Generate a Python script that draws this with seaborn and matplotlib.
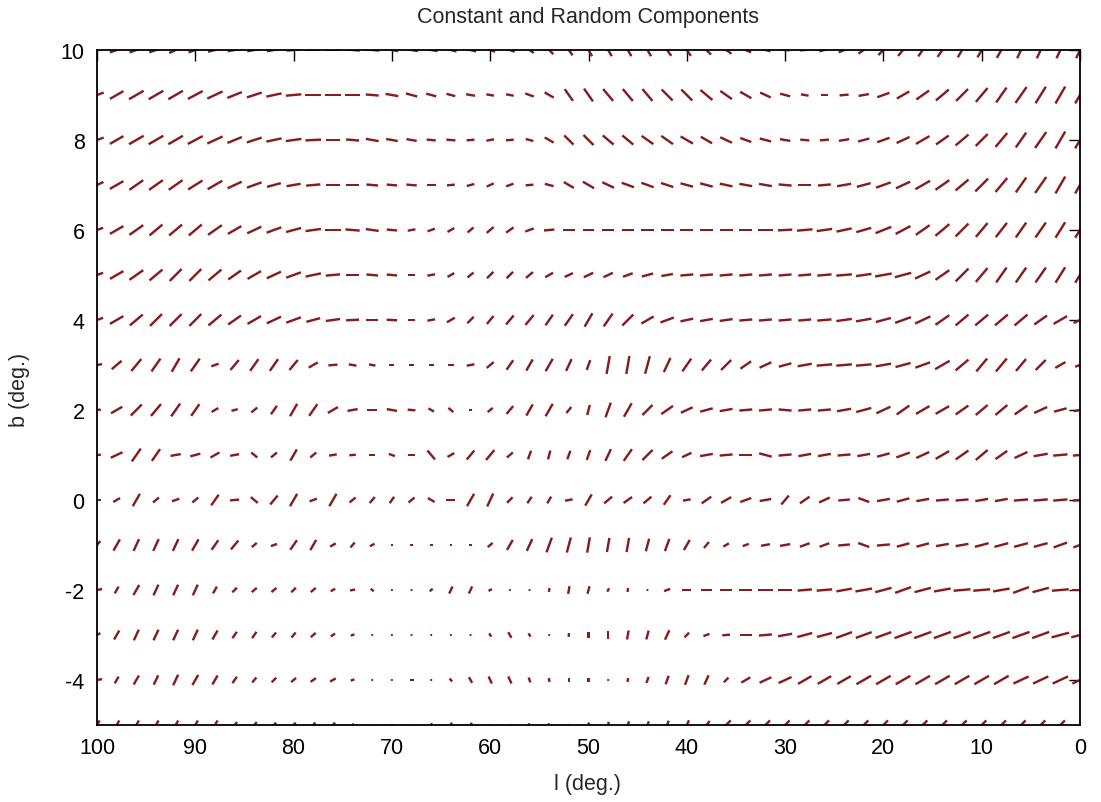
import numpy as np
import pandas as pd
import matplotlib
matplotlib.use("Agg")
import matplotlib.pyplot as plt
import seaborn as sns


sns.set_theme(style="white")
plt.rcParams["font.family"] = ["Liberation Sans", "DejaVu Sans"]
plt.rcParams["axes.unicode_minus"] = False

# grid: l = 100 ... 0 every 2 deg, b = 10 ... -5
l_grid = list(range(100, -1, -2))

# per row: screen angle of the bar (deg, ccw from horizontal) and bar size
# each list goes l = 100 -> 0
ang_p10 = [20, 20, 20, 20, 25, 20, 15, 10, 10, 10,
           5, 0, 0, -5, -5, -10, -10, -10, -15, -15,
           -20, -20, -35, -45, -55, -60, -60, -60, -60, -55,
           -55, -45, -35, -25, -15, -5, 5, 15, 25, 35,
           45, 50, 55, 55, 60, 60, 60, 65, 65, 65,
           65]
len_p10 = [11, 11, 11, 11, 11, 11, 11, 11, 11, 11,
           11, 11, 11, 11, 11, 10, 10, 10, 9, 9,
           8, 8, 8, 9, 10, 11, 11, 11, 11, 11,
           11, 10, 10, 9, 8, 7, 7, 8, 9, 10,
           11, 12, 12, 13, 13, 13, 14, 14, 14, 14,
           14]

ang_p9 = [20, 30, 30, 30, 30, 28, 25, 22, 18, 12,
          5, 0, 0, 0, -5, -10, -15, -15, -15, -10,
          -10, -10, -20, -30, -55, -55, -50, -50, -50, -45,
          -45, -40, -35, -30, -25, -15, -10, 0, 5, 10,
          20, 30, 35, 40, 45, 50, 55, 55, 58, 60,
          60]
len_p9 = [11, 12, 13, 13, 13, 13, 13, 12, 12, 12,
          12, 12, 12, 11, 10, 10, 9, 8, 7, 7,
          6, 6, 7, 8, 11, 12, 12, 12, 12, 12,
          12, 12, 11, 10, 9, 8, 6, 6, 7, 8,
          10, 11, 12, 13, 13, 14, 14, 15, 15, 15,
          15]

ang_p8 = [20, 30, 30, 30, 30, 28, 25, 22, 18, 12,
          8, 3, 0, -5, -10, -10, -10, -5, -5, 5,
          10, 5, -15, -30, -45, -45, -40, -40, -35, -35,
          -30, -30, -25, -20, -15, -10, -5, 5, 10, 15,
          20, 25, 30, 35, 40, 45, 50, 55, 55, 60,
          60]
len_p8 = [11, 12, 13, 13, 13, 13, 13, 12, 12, 12,
          12, 12, 11, 10, 10, 9, 8, 7, 7, 6,
          6, 6, 6, 8, 10, 11, 11, 11, 11, 11,
          11, 10, 10, 9, 9, 8, 7, 7, 8, 9,
          10, 11, 12, 12, 13, 13, 14, 14, 15, 15,
          15]

ang_p7 = [25, 30, 35, 35, 35, 32, 30, 25, 20, 15,
          10, 5, 0, 0, -5, -5, -5, 0, 5, 15,
          25, 20, 5, -15, -30, -30, -25, -20, -20, -18,
          -15, -15, -12, -10, -10, -5, 0, 5, 10, 15,
          20, 25, 30, 35, 40, 45, 50, 55, 55, 60,
          60]
len_p7 = [11, 12, 13, 13, 13, 13, 13, 12, 12, 11,
          11, 11, 11, 10, 9, 8, 8, 7, 6, 6,
          6, 6, 6, 7, 9, 10, 10, 10, 10, 10,
          10, 10, 10, 10, 10, 10, 10, 10, 11, 11,
          12, 12, 13, 13, 13, 14, 14, 14, 15, 15,
          15]

ang_p6 = [20, 30, 35, 40, 40, 40, 35, 30, 25, 20,
          15, 8, 0, -5, -8, -5, 10, 20, 30, 40,
          40, 35, 20, 5, 0, 0, 0, 0, 0, 0,
          0, 0, 0, 0, 0, 3, 5, 8, 12, 16,
          22, 28, 35, 40, 45, 50, 52, 55, 55, 58,
          58]
len_p6 = [10, 12, 13, 13, 13, 13, 13, 12, 12, 12,
          12, 12, 12, 11, 10, 8, 6, 6, 6, 6,
          7, 7, 7, 8, 9, 9, 9, 9, 10, 10,
          10, 10, 10, 10, 11, 11, 12, 12, 12, 12,
          13, 13, 13, 14, 14, 14, 14, 14, 14, 14,
          14]

ang_p5 = [20, 30, 35, 40, 45, 45, 40, 35, 30, 25,
          20, 12, 5, 0, -5, -5, 0, 10, 30, 40,
          45, 45, 40, 30, 25, 25, 25, 20, 15, 10,
          5, 5, 5, 5, 5, 5, 5, 5, 5, 8,
          10, 15, 25, 35, 45, 50, 55, 55, 55, 58,
          58]
len_p5 = [10, 12, 13, 13, 13, 13, 13, 12, 12, 12,
          12, 12, 11, 10, 9, 8, 6, 6, 6, 6,
          7, 7, 7, 7, 7, 8, 8, 8, 9, 9,
          10, 10, 10, 10, 10, 10, 10, 11, 12, 12,
          13, 13, 13, 13, 14, 14, 14, 14, 14, 14,
          14]

ang_p4 = [20, 30, 40, 45, 45, 45, 40, 35, 30, 25,
          20, 15, 8, 3, 0, -3, 0, 10, 30, 45,
          50, 50, 50, 55, 55, 60, 55, 45, 30, 20,
          12, 10, 8, 5, 5, 5, 5, 5, 8, 10,
          15, 20, 25, 35, 40, 40, 40, 40, 35, 30,
          25]
len_p4 = [10, 12, 13, 13, 13, 13, 13, 12, 12, 12,
          12, 11, 11, 10, 9, 8, 6, 6, 7, 7,
          8, 9, 10, 10, 11, 12, 12, 12, 11, 11,
          10, 10, 10, 10, 10, 10, 10, 11, 12, 12,
          12, 13, 13, 13, 13, 13, 13, 13, 12, 12,
          11]

ang_p3 = [10, 40, 50, 55, 60, 55, 20, 50, 55, 55,
          50, 30, 5, -10, -10, 0, 0, 0, 0, 10,
          40, 55, 60, 60, 65, 70, 80, 80, 75, 65,
          55, 50, 45, 35, 25, 15, 10, 5, 5, 5,
          10, 15, 20, 30, 40, 50, 50, 50, 45, 30,
          20]
len_p3 = [8, 10, 12, 12, 12, 12, 6, 10, 11, 11,
          10, 8, 7, 6, 5, 4, 4, 4, 5, 6,
          7, 9, 10, 11, 10, 8, 14, 14, 14, 12,
          12, 11, 11, 10, 10, 10, 11, 12, 12, 12,
          12, 12, 12, 13, 13, 13, 13, 12, 11, 9,
          8]

ang_p2 = [5, 30, 45, 50, 55, 55, 30, 15, 40, 55,
          60, 55, 30, 10, 0, -10, -5, -30, -40, 0,
          40, 50, 60, 60, 50, 75, 70, 60, 45, 35,
          25, 15, 10, 5, 5, -5, 5, 5, 10, 15,
          25, 35, 30, 30, 35, 40, 40, 35, 25, 15,
          10]
len_p2 = [6, 10, 12, 12, 12, 11, 6, 5, 6, 8,
          11, 11, 9, 8, 8, 8, 6, 5, 5, 2,
          5, 8, 10, 11, 6, 8, 12, 12, 11, 11,
          10, 10, 10, 10, 10, 10, 10, 10, 11, 12,
          12, 12, 12, 12, 12, 12, 12, 12, 11, 10,
          10]

ang_p1 = [5, 25, 55, 55, 10, 15, 30, 10, -40, 40,
          60, 40, 10, 5, 0, -20, 0, -50, 30, 50,
          50, 40, 70, 75, 70, 70, 65, 55, 45, 35,
          25, 10, 5, 0, -15, 5, 10, 10, 5, 10,
          15, 20, 25, 30, 35, 40, 35, 25, 10, 5,
          5]
len_p1 = [6, 10, 12, 11, 8, 8, 8, 7, 6, 6,
          10, 6, 6, 5, 5, 5, 5, 9, 6, 9,
          10, 6, 7, 7, 7, 8, 10, 11, 11, 10,
          8, 10, 10, 10, 10, 10, 10, 10, 10, 10,
          10, 11, 11, 12, 12, 12, 11, 11, 11, 11,
          11]

ang_0 = [0, 30, 60, 40, 20, 40, 55, 5, -40, 50,
         60, 20, 60, 40, 50, 55, 40, -30, 0, 60,
         65, 45, 55, 60, 10, 60, 40, 35, 40, 55,
         10, 35, 30, 20, 10, 50, 35, 25, 5, -20,
         10, 15, 10, 5, 5, 10, 10, 5, 5, 5,
         5]
len_0 = [6, 6, 11, 6, 6, 6, 10, 7, 7, 9,
         11, 6, 11, 6, 6, 6, 6, 6, 7, 11,
         11, 6, 6, 6, 6, 10, 8, 8, 8, 9,
         6, 9, 9, 9, 9, 9, 9, 9, 9, 9,
         10, 10, 10, 10, 10, 10, 10, 11, 11, 11,
         11]

ang_m1 = [50, 60, 65, 65, 65, 60, 55, 50, 40, 20,
          55, 60, 30, 50, 30, 0, 0, 0, 0, 0,
          40, 60, 65, 70, 75, 80, 80, 80, 75, 70,
          60, 50, 30, 20, 10, 10, 20, 20, 5, -20,
          5, 15, 15, 10, 10, 15, 15, 15, 15, 20,
          20]
len_m1 = [8, 10, 10, 10, 10, 10, 9, 9, 5, 5,
          9, 9, 5, 5, 4, 2, 2, 2, 2, 2,
          5, 9, 10, 12, 12, 12, 11, 11, 10, 10,
          9, 6, 5, 5, 7, 8, 8, 8, 9, 9,
          10, 10, 10, 10, 10, 11, 11, 11, 11, 11,
          11]

ang_m2 = [10, 60, 60, 65, 65, 65, 60, 45, 40, 40,
          45, 40, 30, 10, -40, 0, 0, 40, 65, 65,
          30, 0, 0, 80, 80, 75, 60, 80, 0, 20,
          0, 0, 0, 0, 0, 0, 5, 5, 10, 10,
          15, 20, 15, 10, 5, 5, 10, 20, 15, 5,
          0]
len_m2 = [8, 6, 9, 9, 9, 9, 6, 5, 5, 5,
          5, 5, 4, 4, 3, 1.5, 1.5, 3, 6, 6,
          3, 1.5, 1.5, 3, 6, 6, 3, 3, 1.5, 5,
          7, 8, 9, 10, 11, 11, 11, 12, 12, 13,
          13, 13, 13, 13, 13, 13, 13, 13, 13, 13,
          13]

ang_m3 = [30, 60, 65, 65, 65, 65, 60, 55, 55, 50,
          50, 40, 35, 20, 0, 0, 0, 0, 0, 0,
          -60, -60, -60, 0, 85, 90, 90, 80, 75, 65,
          45, 20, 5, 0, 5, 10, 15, 15, 20, 20,
          20, 20, 20, 20, 20, 20, 20, 20, 20, 15,
          15]
len_m3 = [6, 8, 9, 9, 9, 9, 8, 6, 6, 5,
          5, 5, 4, 3, 1.5, 1.5, 1.5, 1.5, 1.5, 1.5,
          3, 5, 3, 1.5, 3, 5, 6, 7, 7, 8,
          5, 5, 6, 9, 10, 11, 12, 12, 13, 13,
          13, 14, 14, 14, 14, 14, 14, 14, 14, 14,
          14]

ang_m4 = [10, 60, 60, 65, 65, 60, 60, 55, 50, 45,
          40, 35, 30, 20, 0, 0, 0, 0, -50, -60,
          -65, -65, -70, -80, 90, 90, 90, 80, 70, 70,
          70, 65, 45, 30, 25, 25, 30, 30, 30, 30,
          30, 30, 30, 30, 30, 30, 30, 25, 25, 25,
          25]
len_m4 = [8, 6, 8, 8, 9, 9, 8, 6, 5, 5,
          5, 5, 5, 3, 1.5, 1.5, 3, 1.5, 3, 5,
          6, 6, 4, 3, 3, 3, 1.5, 3, 5, 7,
          8, 8, 5, 8, 10, 11, 12, 12, 12, 13,
          13, 13, 13, 13, 13, 13, 13, 13, 13, 13,
          13]

ang_m5 = [60, 60, 60, 60, 60, 60, 60, 50, 50, 50,
          50, 50, 50, 40, 0, 0, 0, 70, 70, 60,
          0, 0, -60, -60, 0, 80, 80, 70, 70, 70,
          65, 50, 45, 45, 45, 45, 45, 45, 45, 45,
          45, 45, 45, 45, 45, 45, 45, 45, 45, 45,
          45]
len_m5 = [8, 8, 8, 8, 8, 8, 8, 6, 6, 5,
          5, 5, 5, 3, 1.5, 1.5, 1.5, 3, 4, 4,
          1.5, 1.5, 3, 3, 1.5, 4, 5, 6, 6, 7,
          8, 8, 10, 10, 10, 10, 10, 10, 10, 10,
          10, 10, 10, 10, 10, 10, 10, 10, 10, 10,
          10]

filas = [
    (10, ang_p10, len_p10), (9, ang_p9, len_p9), (8, ang_p8, len_p8),
    (7, ang_p7, len_p7), (6, ang_p6, len_p6), (5, ang_p5, len_p5),
    (4, ang_p4, len_p4), (3, ang_p3, len_p3), (2, ang_p2, len_p2),
    (1, ang_p1, len_p1), (0, ang_0, len_0), (-1, ang_m1, len_m1),
    (-2, ang_m2, len_m2), (-3, ang_m3, len_m3), (-4, ang_m4, len_m4),
    (-5, ang_m5, len_m5),
]

# TABELA
dados = pd.concat(
    [pd.DataFrame({"l": l_grid, "b": b, "ang": a, "tam": t}) for b, a, t in filas],
    ignore_index=True,
)
dados["u"] = dados["tam"] * np.cos(np.radians(dados["ang"]))
dados["v"] = dados["tam"] * np.sin(np.radians(dados["ang"]))

# FIGURA
fig = plt.figure(figsize=(11.01, 8.03), dpi=100)
ax = fig.add_axes([97 / 1101, 1 - 726 / 803, 983 / 1101, 675 / 803])

# bar size -> pixels (about 1.3 px per unit)
ax.quiver(
    dados["l"], dados["b"], dados["u"], dados["v"],
    angles="uv", scale_units="dots", scale=0.77,
    units="dots", width=2.4,
    headwidth=0, headlength=0, headaxislength=0,
    pivot="mid", color="#861c1c",
)

ax.set_xlim(100, 0)
ax.set_ylim(-5, 10)
ax.set_xticks(range(0, 101, 10))
ax.set_yticks(range(-4, 11, 2))
ax.tick_params(direction="in", length=8, width=1, top=True, right=True,
               labelsize=15.5, colors="black")
ax.tick_params(axis="x", pad=9)
ax.tick_params(axis="y", pad=9)
for s in ax.spines.values():
    s.set_color("black")
    s.set_linewidth(1.3)

fig.text(588 / 1101, 1 - 18 / 803, "Constant and Random Components",
         ha="center", va="center", fontsize=15.5)
fig.text(588 / 1101, 1 - 785 / 803, "l (deg.)", ha="center", va="center", fontsize=15.5)
fig.text(20 / 1101, 1 - 390 / 803, "b (deg.)", ha="center", va="center",
         rotation=90, fontsize=15.5)

fig.savefig("out.png", dpi=100)
